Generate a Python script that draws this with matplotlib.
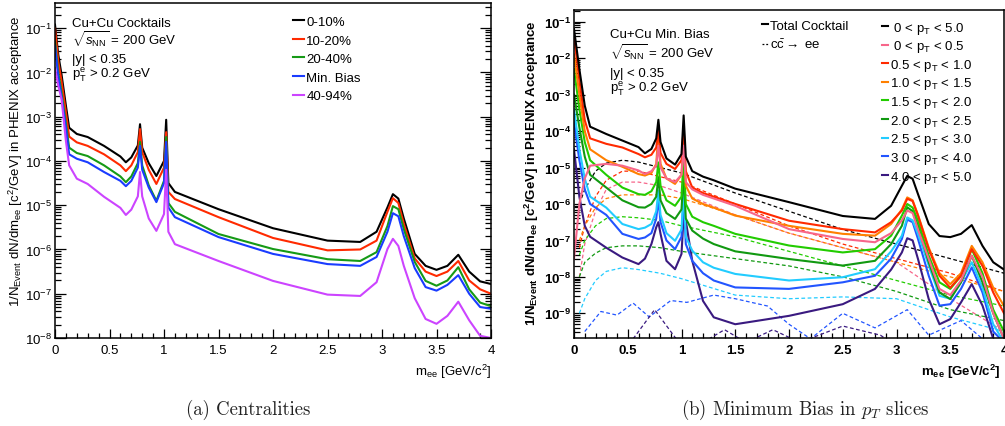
import numpy as np
import matplotlib
matplotlib.use("Agg")
import matplotlib.pyplot as plt
from matplotlib.ticker import FuncFormatter, MultipleLocator, LogLocator, NullFormatter
from matplotlib.lines import Line2D

plt.rcParams.update({"font.family": "Liberation Sans", "font.size": 9.5,
                     "mathtext.fontset": "custom", "mathtext.rm": "Liberation Sans",
                     "mathtext.it": "Liberation Sans:italic", "mathtext.bf": "Liberation Sans:bold",
                     "mathtext.sf": "Liberation Sans"})

# ---- panel (a): centralities, log10 of yield at mass points (GeV/c^2)
M_L = [0, 0.03, 0.06, 0.1, 0.13, 0.2, 0.3, 0.45, 0.6, 0.65, 0.7, 0.76, 0.78, 0.80, 0.86, 0.93,
       1.0, 1.02, 1.04, 1.1, 1.5, 2.0, 2.5, 2.8, 2.95, 3.05, 3.1, 3.15, 3.2, 3.3, 3.4, 3.5, 3.6,
       3.7, 3.8, 3.9, 4.0]
C_0_10 = [-0.92, -1.6, -2.05, -2.75, -3.25, -3.39, -3.46, -3.66, -3.9, -4.03, -3.92, -3.65, -3.17,
          -3.7, -4.05, -4.34, -4.0, -3.07, -4.5, -4.7, -5.09, -5.52, -5.8, -5.83, -5.6, -5.05,
          -4.75, -4.85, -5.3, -6.1, -6.37, -6.46, -6.37, -6.12, -6.5, -6.72, -6.78]
C_10_20 = [-1.0, -1.75, -2.2, -2.9, -3.45, -3.58, -3.66, -3.85, -4.1, -4.23, -4.1, -3.8, -3.28,
           -3.8, -4.2, -4.52, -4.15, -3.35, -4.7, -4.86, -5.27, -5.74, -6.02, -6.0, -5.8, -5.15,
           -4.84, -4.95, -5.42, -6.2, -6.5, -6.6, -6.5, -6.26, -6.7, -6.9, -7.0]
C_20_40 = [-1.3, -2.0, -2.45, -3.15, -3.7, -3.82, -3.89, -4.1, -4.35, -4.48, -4.35, -4.05, -3.57,
           -4.1, -4.55, -4.9, -4.45, -3.46, -4.95, -5.15, -5.65, -5.99, -6.22, -6.26, -6.06,
           -5.47, -5.02, -5.09, -5.54, -6.28, -6.71, -6.82, -6.7, -6.4, -6.9, -7.2, -7.28]
C_MB = [-1.4, -2.1, -2.55, -3.25, -3.85, -3.95, -4.03, -4.25, -4.45, -4.57, -4.45, -4.15, -3.66,
        -4.2, -4.6, -4.93, -4.5, -3.57, -5.05, -5.27, -5.72, -6.1, -6.33, -6.37, -6.17, -5.6,
        -5.18, -5.25, -5.7, -6.42, -6.85, -6.93, -6.8, -6.58, -7.0, -7.3, -7.34]
C_40_94 = [-1.9, -2.3, -2.6, -3.55, -4.1, -4.4, -4.52, -4.81, -5.06, -5.22, -5.1, -4.8, -4.25,
           -4.8, -5.3, -5.58, -5.2, -4.2, -5.6, -5.88, -6.26, -6.71, -7.02, -7.05, -6.74, -5.99,
           -5.76, -5.92, -6.37, -7.1, -7.57, -7.68, -7.5, -7.18, -7.6, -7.95, -8.0]
CENT_LABELS = ["0-10%", "10-20%", "20-40%", "Min. Bias", "40-94%"]
CENT_COLORS = ["#000000", "#ff2a00", "#169a16", "#1a3cff", "#cc44ff"]

# ---- panel (b): min. bias pT slices (solid = cocktail, dashed = ccbar)
M_R = [0.0, 0.05, 0.1, 0.15, 0.3, 0.45, 0.6, 0.66, 0.72, 0.765, 0.785, 0.805, 0.86, 0.94, 1.0,
       1.02, 1.04, 1.1, 1.2, 1.3, 1.5, 2.0, 2.5, 2.8, 2.95, 3.05, 3.1, 3.15, 3.2, 3.3, 3.4, 3.5,
       3.6, 3.7, 3.8, 3.9, 4.0]
S_0_50 = [-1.2, -2.3, -3.3, -3.88, -4.08, -4.26, -4.44, -4.61, -4.49, -4.2, -3.69, -4.3, -4.75,
          -4.92, -4.63, -3.57, -4.7, -5.1, -5.25, -5.35, -5.58, -5.95, -6.33, -6.41, -6.05, -5.5,
          -5.23, -5.31, -5.73, -6.55, -6.88, -6.91, -6.82, -6.58, -7.15, -7.6, -7.8]
S_0_05 = [-7.5, -6.0, -5.3, -4.95, -4.9, -4.95, -5.08, -5.18, -5.1, -4.95, -4.4, -5.0, -5.3,
          -5.4, -5.2, -4.4, -5.4, -5.6, -5.75, -5.85, -6.05, -6.69, -6.96, -7.05, -6.8, -6.45,
          -6.18, -6.25, -6.7, -7.51, -8.33, -8.5, -8.1, -7.42, -8.0, -9.0, -9.7]
S_05_10 = [-1.4, -2.6, -3.7, -4.2, -4.35, -4.45, -4.63, -4.72, -4.65, -4.45, -3.99, -4.6, -4.9,
           -5.04, -4.8, -3.89, -5.1, -5.55, -5.7, -5.8, -6.0, -6.46, -6.69, -6.78, -6.5, -6.18,
           -5.86, -5.92, -6.32, -7.24, -7.97, -8.3, -7.97, -7.24, -7.7, -8.43, -9.0]
S_10_15 = [-1.9, -3.0, -4.0, -4.5, -4.8, -4.98, -5.18, -5.22, -5.15, -4.9, -4.03, -4.9, -5.3,
           -5.45, -5.2, -3.94, -5.5, -5.85, -6.0, -6.1, -6.32, -6.6, -6.82, -6.87, -6.55, -6.15,
           -5.82, -5.9, -6.3, -7.2, -7.9, -8.2, -7.9, -7.15, -7.6, -8.3, -8.8]
S_15_20 = [-2.3, -3.4, -4.3, -4.8, -5.2, -5.55, -5.73, -5.75, -5.65, -5.4, -4.86, -5.5, -5.9,
           -6.05, -5.8, -4.72, -6.0, -6.35, -6.5, -6.6, -6.82, -7.14, -7.33, -7.24, -6.87, -6.32,
           -6.0, -6.1, -6.46, -7.42, -8.15, -8.33, -7.97, -7.24, -7.9, -8.9, -9.5]
S_20_25 = [-3.0, -3.9, -4.7, -5.2, -5.55, -5.9, -6.09, -6.1, -6.0, -5.8, -5.27, -5.9, -6.25,
           -6.41, -6.15, -5.18, -6.4, -6.73, -6.95, -7.1, -7.3, -7.51, -7.69, -7.56, -7.1, -6.6,
           -6.09, -6.2, -6.6, -7.6, -8.43, -8.61, -8.15, -7.42, -8.15, -9.0, -9.7]
S_25_30 = [-3.4, -4.5, -5.3, -5.8, -6.1, -6.55, -6.69, -6.65, -6.55, -6.2, -5.63, -6.3, -6.8,
           -7.01, -6.7, -5.59, -6.9, -7.28, -7.6, -7.75, -7.92, -8.1, -8.01, -7.79, -7.3, -6.87,
           -6.37, -6.45, -6.82, -7.69, -8.52, -8.6, -8.15, -7.6, -8.3, -9.3, -9.8]
S_30_40 = [-3.75, -4.8, -5.6, -6.0, -6.3, -6.82, -6.96, -6.92, -6.8, -6.4, -5.86, -6.5, -7.0,
           -7.24, -6.9, -5.82, -7.1, -7.56, -7.9, -8.1, -8.29, -8.33, -8.15, -7.97, -7.5, -6.96,
           -6.43, -6.5, -6.96, -7.97, -8.79, -8.75, -8.33, -7.74, -8.43, -9.5, -9.8]
S_40_50 = [-4.5, -5.8, -6.6, -6.9, -7.2, -7.47, -7.65, -7.5, -7.1, -6.64, -6.5, -6.82, -7.56,
           -7.79, -7.37, -6.32, -6.46, -7.56, -8.66, -9.11, -9.3, -9.07, -8.75, -8.33, -7.8,
           -7.33, -6.94, -7.0, -7.51, -8.61, -9.3, -9.16, -8.7, -8.2, -8.79, -9.7, -9.8]
SLICES = [S_0_50, S_0_05, S_05_10, S_10_15, S_15_20, S_20_25, S_25_30, S_30_40, S_40_50]
SLICE_LABELS = [r" 0 < $\mathrm{p_T}$ < 5.0", r" 0 < $\mathrm{p_T}$ < 0.5", r"0.5 < $\mathrm{p_T}$ < 1.0",
                r"1.0 < $\mathrm{p_T}$ < 1.5", r"1.5 < $\mathrm{p_T}$ < 2.0", r"2.0 < $\mathrm{p_T}$ < 2.5",
                r"2.5 < $\mathrm{p_T}$ < 3.0", r"3.0 < $\mathrm{p_T}$ < 4.0", r"4.0 < $\mathrm{p_T}$ < 5.0"]
SLICE_COLORS = ["#000000", "#f7668a", "#ff2a00", "#ff8000", "#22cc00", "#119911",
                "#22ccff", "#2255ff", "#3a1a80"]

M_C = [0.05, 0.1, 0.2, 0.3, 0.45, 0.6, 0.8, 1.0, 1.5, 2.0, 2.5, 3.0, 3.5, 4.0]
CC_0_50 = [-6.0, -5.6, -5.1, -4.88, -4.8, -4.85, -5.0, -5.15, -5.7, -6.2, -6.7, -7.1, -7.5, -7.9]
CC_0_05 = [-8.0, -7.1, -6.2, -5.6, -5.4, -5.4, -5.5, -5.7, -6.3, -6.8, -7.2, -7.6, -8.6, -9.5]
CC_05_10 = [-7.2, -6.6, -5.8, -5.35, -5.1, -5.1, -5.25, -5.4, -6.0, -6.6, -7.1, -7.5, -7.9, -8.4]
CC_10_15 = [-7.0, -6.6, -6.1, -5.85, -5.75, -5.75, -5.75, -5.85, -6.3, -6.8, -7.2, -7.6, -8.0, -8.4]
CC_15_20 = [-7.4, -7.0, -6.6, -6.4, -6.35, -6.38, -6.45, -6.6, -6.9, -7.3, -7.7, -8.1, -8.5, -8.8]
CC_20_25 = [-8.0, -7.6, -7.35, -7.2, -7.15, -7.15, -7.2, -7.3, -7.5, -7.7, -8.0, -8.4, -8.9, -9.2]
CC_25_30 = [-9.0, -8.6, -8.1, -7.85, -7.75, -7.8, -7.9, -8.05, -8.5, -8.6, -8.55, -8.6, -9.1, -9.5]
CHARM = [CC_0_50, CC_0_05, CC_05_10, CC_10_15, CC_15_20, CC_20_25, CC_25_30]
M_BD = [0.1, 0.25, 0.4, 0.55, 0.7, 0.9, 1.05, 1.3, 1.5, 1.8, 2.0, 2.2, 2.5, 2.8, 3.1, 3.3, 3.6, 3.8]
CC_30_40 = [-9.5, -8.95, -9.05, -8.72, -9.1, -8.65, -8.7, -8.5, -8.6, -8.8, -9.3, -9.7, -9.0,
            -9.4, -8.9, -9.6, -9.2, -9.7]
M_ID = [0.55, 0.75, 0.95, 1.2, 1.4, 1.6, 1.85, 2.1, 2.5, 2.85, 3.0]
CC_40_50 = [-9.7, -8.9, -9.7, -9.8, -9.45, -9.8, -9.45, -9.8, -9.35, -9.6, -9.9]

W, H = 1005, 427
fig = plt.figure(figsize=(W/100, H/100), dpi=100)
axL = fig.add_axes([55/W, (H-339)/H, 436/W, 335/H])
axR = fig.add_axes([574/W, (H-339)/H, 430/W, 328/H])

for vals, c, lab in zip([C_0_10, C_10_20, C_20_40, C_MB, C_40_94], CENT_COLORS, CENT_LABELS):
    axL.plot(M_L, np.power(10.0, vals), color=c, lw=1.5, label=lab)

for vals, c in zip(CHARM, SLICE_COLORS[:7]):
    axR.plot(M_C, np.power(10.0, vals), color=c, lw=0.9, ls=(0, (3, 2)))
axR.plot(M_BD, np.power(10.0, CC_30_40), color=SLICE_COLORS[7], lw=0.9, ls=(0, (3, 2)))
axR.plot(M_ID, np.power(10.0, CC_40_50), color=SLICE_COLORS[8], lw=0.9, ls=(0, (3, 2)))
for vals, c in list(zip(SLICES, SLICE_COLORS))[::-1]:
    axR.plot(M_R, np.power(10.0, vals), color=c, lw=1.5)


def style(ax, ylo, yhi, bold):
    ax.set_yscale("log")
    ax.set_xlim(0, 4)
    ax.set_ylim(ylo, yhi)
    ax.xaxis.set_major_locator(MultipleLocator(0.5))
    ax.xaxis.set_minor_locator(MultipleLocator(0.1))
    ax.yaxis.set_major_locator(LogLocator(base=10, numticks=20))
    ax.yaxis.set_minor_locator(LogLocator(base=10, subs=np.arange(2, 10), numticks=20))
    ax.yaxis.set_minor_formatter(NullFormatter())
    if bold:
        ax.yaxis.set_major_formatter(FuncFormatter(lambda v, p: r"$\mathbf{10^{%d}}$" % round(np.log10(v))))
    else:
        ax.yaxis.set_major_formatter(FuncFormatter(lambda v, p: r"$10^{%d}$" % round(np.log10(v))))
    ax.xaxis.set_major_formatter(FuncFormatter(lambda v, p: "%g" % v))
    ax.tick_params(axis="both", which="both", direction="in", labelsize=9.5, width=0.9)
    ax.tick_params(axis="y", which="major", length=8, pad=2)
    ax.tick_params(axis="y", which="minor", length=4)
    ax.tick_params(axis="x", which="major", length=6.5, pad=4)
    ax.tick_params(axis="x", which="minor", length=3.5)
    for s in ax.spines.values():
        s.set_linewidth(1.1)


style(axL, 1e-8, 0.37, False)
axL.tick_params(axis="y", which="both", right=True)
style(axR, 2.1e-10, 0.21, True)
for t in axR.get_xticklabels():
    t.set_fontweight("bold")

# panel (a) texts
axL.text(0.039, 0.94, "Cu+Cu Cocktails", transform=axL.transAxes, va="center")
axL.text(0.039, 0.893, r"$\sqrt{s_{\mathrm{NN}}}$ = 200 GeV", transform=axL.transAxes, va="center")
axL.text(0.039, 0.833, "|y| < 0.35", transform=axL.transAxes, va="center")
axL.text(0.039, 0.788, r"$\mathrm{p_T^e}$ > 0.2 GeV", transform=axL.transAxes, va="center")
axL.legend(loc="upper left", bbox_to_anchor=(0.546, 0.962), frameon=False, fontsize=9.5,
           handlelength=0.8, handletextpad=0.2, labelspacing=0.48, borderpad=0, borderaxespad=0)
fig.text(16/W, (H-161)/H, r"1/N$_{\mathrm{Event}}$ dN/dm$_{\mathrm{ee}}$ [c$^2$/GeV] in PHENIX acceptance",
         rotation=90, ha="center", va="center", fontsize=9.5)
fig.text(491/W, (H-372)/H, r"m$_{\mathrm{ee}}$ [GeV/c$^2$]", ha="right", va="center", fontsize=9.5)

# panel (b) texts
axR.text(0.084, 0.927, "Cu+Cu Min. Bias", transform=axR.transAxes, va="center")
axR.text(0.084, 0.872, r"$\sqrt{s_{\mathrm{NN}}}$ = 200 GeV", transform=axR.transAxes, va="center")
axR.text(0.084, 0.808, "|y| < 0.35", transform=axR.transAxes, va="center")
axR.text(0.084, 0.762, r"$\mathrm{p_T^e}$ > 0.2 GeV", transform=axR.transAxes, va="center")
h1 = [Line2D([], [], color="k", lw=1.5), Line2D([], [], color="k", lw=0.9, ls=(0, (1.5, 1.5)))]
lg1 = axR.legend(h1, ["Total Cocktail", r"$\mathrm{c\bar{c}}\rightarrow$ ee"], loc="upper left",
                 bbox_to_anchor=(0.437, 0.971), frameon=False, fontsize=9.5, handlelength=0.45,
                 handletextpad=0.15, labelspacing=0.45, borderpad=0, borderaxespad=0)
axR.add_artist(lg1)
h2 = [Line2D([], [], color=c, lw=1.5) for c in SLICE_COLORS]
axR.legend(h2, SLICE_LABELS, loc="upper left", bbox_to_anchor=(0.716, 0.971), frameon=False,
           fontsize=9.5, handlelength=0.45, handletextpad=0.15, labelspacing=0.2, borderpad=0,
           borderaxespad=0)
fig.text(532/W, (H-173)/H, r"1/N$_{\mathbf{Event}}$ dN/dm$_{\mathbf{ee}}$ [c$^{\mathbf{2}}$/GeV] in PHENIX Acceptance",
         rotation=90, ha="center", va="center", fontsize=9.5, fontweight="bold")
fig.text(1001/W, (H-372)/H, r"m$_{\mathbf{ee}}$ [GeV/c$^{\mathbf{2}}$]", ha="right", va="center",
         fontsize=9.5, fontweight="bold")

# captions
fig.text(248/W, (H-410)/H, "(a) Centralities", family="cmr10", fontsize=13.5, ha="center",
         va="center", color="#222222")
fig.text(805/W, (H-410)/H, r"(b) Minimum Bias in $p_T$ slices", family="cmr10", fontsize=13.5,
         ha="center", va="center", color="#222222", math_fontfamily="cm")

fig.savefig("out.png", dpi=100)
